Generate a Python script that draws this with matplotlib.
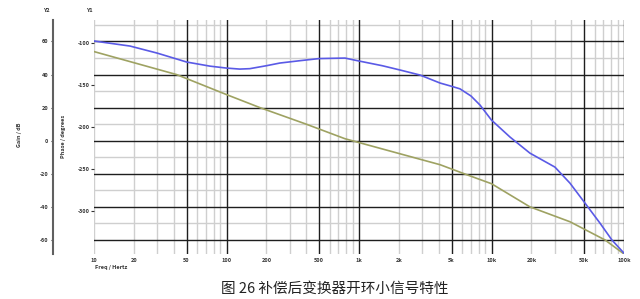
import matplotlib.pyplot as plt
import numpy as np

plt.rcParams['font.family'] = ['Noto Sans CJK SC', 'DejaVu Sans']

# 相位曲线 (蓝)
freq_phase = [10, 18.7, 30, 50, 75, 100, 126, 150, 200, 253, 359, 500, 784, 1000,
              1500, 2040, 2890, 4090, 5000, 5780, 7000, 8190, 10000, 13800, 19500,
              30100, 39100, 50800, 65900, 81200, 100000]
phase = [-97.6, -103.6, -112, -122.6, -127.5, -129.8, -131, -130.5, -127, -123.8,
         -121, -118.5, -117.9, -121.4, -127, -132.1, -138.1, -147.6, -151.5, -154.5,
         -163, -173.8, -191.7, -211.9, -231, -247.6, -266.7, -290.5, -314.3, -334.5, -350]

# 增益曲线 (橄榄绿)
freq_gain = [10, 42, 100, 179, 400, 784, 2040, 4090, 6530, 10000, 19500, 39100,
             71900, 100000]
gain = [53.9, 40, 27.9, 20, 10, 1.2, -7.9, -14.5, -20.6, -26, -40, -49, -60, -68.5]

xtick_vals = [10, 20, 50, 100, 200, 500, 1000, 2000, 5000, 10000, 20000, 50000, 100000]
xtick_labels = ['10', '20', '50', '100', '200', '500', '1k', '2k', '5k', '10k', '20k', '50k', '100k']
gain_ticks = [60, 40, 20, 0, -20, -40, -60]
phase_ticks = [-100, -150, -200, -250, -300]

W, H = 640, 299
fig = plt.figure(figsize=(W / 100, H / 100), dpi=100)
ax = fig.add_axes([94 / W, (H - 254) / H, 530 / W, 234 / H])
ax.set_xscale('log')
ax.set_xlim(10, 100000)
ax.set_ylim(-68.5, 73)

dark = '#1e1e1e'
light = '#cfcfcf'
# 网格
for dec in [10, 100, 1000, 10000]:
    for m in range(1, 10):
        f = dec * m
        if m in (1, 5) and f > 10:
            ax.axvline(f, color=dark, lw=1.0, zorder=1)
        else:
            ax.axvline(f, color=light, lw=1.0, zorder=0)
ax.axvline(100000, color=dark, lw=1.0, zorder=1)
for g in range(-70, 71, 20):
    ax.axhline(g, color=light, lw=1.0, zorder=0)
for g in range(-60, 61, 20):
    ax.axhline(g, color=dark, lw=1.0, zorder=1)

ax.plot(freq_gain, gain, color='#9ea262', lw=1.2, zorder=3)

for s in ['top', 'right', 'bottom']:
    ax.spines[s].set_visible(False)
ax.spines['left'].set_position(('outward', 29.5))
ax.spines['left'].set_color('#606060')
ax.spines['left'].set_linewidth(1.5)
ax.set_yticks(gain_ticks)
ax.set_yticklabels([str(v) for v in gain_ticks], fontsize=4, fontweight='bold')
ax.tick_params(axis='y', length=1.5, pad=2, colors='#333333')
ax.set_xticks(xtick_vals)
ax.set_xticklabels(xtick_labels, fontsize=4, fontweight='bold')
ax.xaxis.set_minor_locator(plt.NullLocator())
ax.tick_params(axis='x', length=0, pad=3, colors='#333333')

ax_ph = ax.twinx()
ax_ph.set_ylim(-351, -72.6)
ax_ph.plot(freq_phase, phase, color='#5a5ae6', lw=1.2, zorder=3)
ax_ph.yaxis.set_ticks_position('left')
ax_ph.set_yticks(phase_ticks)
ax_ph.set_yticklabels([str(v) for v in phase_ticks], fontsize=4, fontweight='bold')
ax_ph.tick_params(axis='y', length=2, pad=1, colors='#333333')
for s in ax_ph.spines.values():
    s.set_visible(False)

def px(x, y):
    return x / W, 1 - y / H

fig.text(*px(47, 10), 'Y2', fontsize=4, fontweight='bold', ha='center', va='center', color='#333333')
fig.text(*px(90, 10), 'Y1', fontsize=4, fontweight='bold', ha='center', va='center', color='#333333')
fig.text(*px(20, 135), 'Gain / dB', fontsize=4, fontweight='bold', rotation=90, ha='center', va='center', color='#333333')
fig.text(*px(64, 136), 'Phase / degrees', fontsize=4, fontweight='bold', rotation=90, ha='center', va='center', color='#333333')
fig.text(*px(95, 268), 'Freq / Hertz', fontsize=4, fontweight='bold', ha='left', va='center', color='#333333')
fig.text(*px(335, 289), '图 26 补偿后变换器开环小信号特性', fontsize=10.5, ha='center', va='center', color='#222222')

fig.savefig('out.png', dpi=100)
